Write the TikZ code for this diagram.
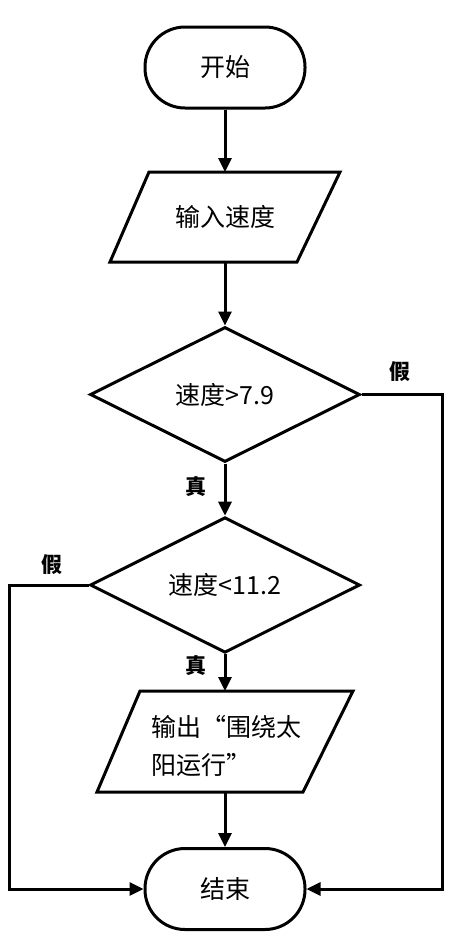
\documentclass[tikz,border=0pt]{standalone}
\usepackage{fontspec}
\setmainfont{Noto Sans CJK SC}
\usetikzlibrary{shapes.geometric,arrows.meta}
\begin{document}
\begin{tikzpicture}[x=1pt,y=1pt,
  thickline/.style={line width=3pt},
  flow/.style={thickline, -{Triangle[length=14pt,width=13pt]}},
  big/.style={font=\fontsize{25}{38}\selectfont},
  term/.style={draw, thickline, rectangle, rounded corners=40pt, minimum width=160pt, minimum height=81pt, inner sep=0pt, big},
  dec/.style={draw, thickline, diamond, minimum width=270pt, minimum height=135pt, inner sep=0pt, big},
  iotext/.style={inner sep=0pt, big, align=left},
  lab/.style={inner sep=0pt, font=\fontsize{21}{26}\selectfont\bfseries}]
\useasboundingbox (0,0) rectangle (453,-940);
% start
\node[term] (start) at (225,-67.5) {开始};
% input parallelogram
\coordinate (i1) at (149,-172);
\coordinate (i2) at (340,-172);
\coordinate (i3) at (297,-262);
\coordinate (i4) at (110,-262);
\coordinate (intop) at (225,-172);
\coordinate (inbot) at (225,-262);
\draw[thickline] (i1) -- (i2) -- (i3) -- (i4) -- cycle;
\node[iotext] (in) at (225,-217) {输入速度};
% decisions
\node[dec] (d1) at (225,-394.5) {速度>7.9};
\node[dec] (d2) at (225,-585) {速度<11.2};
% output parallelogram
\coordinate (o1) at (140,-691);
\coordinate (o2) at (353,-691);
\coordinate (o3) at (303,-792);
\coordinate (o4) at (97,-792);
\coordinate (outtop) at (225,-691);
\coordinate (outbot) at (225,-792);
\draw[thickline] (o1) -- (o2) -- (o3) -- (o4) -- cycle;
\node[iotext, anchor=west] (out) at (151,-746) {输出“围绕太\\阳运行”};
% end
\node[term] (end) at (225,-889) {结束};
% labels
\node[lab] (f1) at (400,-372) {假};
\node[lab] (f2) at (52,-565) {假};
\node[lab] (t1) at (196,-487) {真};
\node[lab] (t2) at (196,-665) {真};
% connectors
\coordinate (rc) at (442,0);
\coordinate (lc) at (9.5,0);
\draw[flow] (start.south) -- (intop);
\draw[flow] (inbot) -- (d1.north);
\draw[flow] (d1.south) -- (d2.north);
\draw[flow] (d2.south) -- (outtop);
\draw[flow] (outbot) -- (end.north);
\draw[flow] (d1.east) -| (rc |- end.east) -- (end.east);
\draw[flow] (d2.west) -| (lc |- end.west) -- (end.west);
\end{tikzpicture}
\end{document}
